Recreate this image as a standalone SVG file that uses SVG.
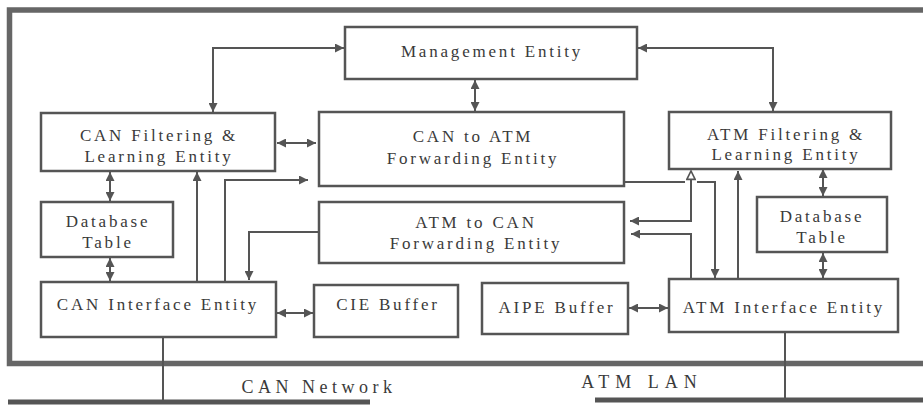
<svg xmlns="http://www.w3.org/2000/svg" width="923" height="405" viewBox="0 0 923 405">
<style>
.box{fill:#fff;stroke:#555;stroke-width:2.5}
.t{font-family:"Liberation Serif","Times New Roman",serif;font-size:17px;fill:#3a3a3a;text-anchor:middle;letter-spacing:2.8px}
.big{font-size:18px;letter-spacing:4.5px}
.wide{letter-spacing:6px}
.c{fill:none;stroke:#555;stroke-width:2}
.frame{fill:none;stroke:#666;stroke-width:5.5}
</style>
<defs>
<marker id="ah" viewBox="0 0 10 10" refX="10" refY="5" markerWidth="10" markerHeight="9" markerUnits="userSpaceOnUse" orient="auto-start-reverse">
<path d="M0,0 L10,5 L0,10 z" fill="#555"/>
</marker>
<marker id="ho" viewBox="0 0 12 12" refX="11" refY="6" markerWidth="11" markerHeight="10" markerUnits="userSpaceOnUse" orient="auto-start-reverse">
<path d="M1,1 L11,6 L1,11 z" fill="#fff" stroke="#555" stroke-width="2"/>
</marker>
</defs>
<rect width="923" height="405" fill="#fff"/>
<g id="frame">
<path class="frame" d="M923,10 H9.5 V363.5 H923"/>
<line x1="8" y1="402" x2="370" y2="402" stroke="#555" stroke-width="5"/>
<line x1="595" y1="400" x2="923" y2="400" stroke="#555" stroke-width="5"/>
</g>
<g id="connectors">
<path class="c" d="M163,337 V400"/>
<path class="c" d="M785,332 V398"/>
<path class="c" d="M344,48 H213 V112" marker-start="url(#ah)" marker-end="url(#ah)"/>
<path class="c" d="M638,48 H773 V111" marker-start="url(#ah)" marker-end="url(#ah)"/>
<path class="c" d="M475,80 V111" marker-start="url(#ah)" marker-end="url(#ah)"/>
<path class="c" d="M277,143 H316" marker-start="url(#ah)" marker-end="url(#ah)"/>
<path class="c" d="M110,172 V201" marker-start="url(#ah)" marker-end="url(#ah)"/>
<path class="c" d="M110,258 V281" marker-start="url(#ah)" marker-end="url(#ah)"/>
<path class="c" d="M197,281 V172" marker-end="url(#ah)"/>
<path class="c" d="M225,281 V180 H308" marker-end="url(#ah)"/>
<path class="c" d="M319,232 H249 V280" marker-end="url(#ah)"/>
<path class="c" d="M277,313 H313" marker-start="url(#ah)" marker-end="url(#ah)"/>
<path class="c" d="M629,308 H668" marker-start="url(#ah)" marker-end="url(#ah)"/>
<path class="c" d="M823,169 V196" marker-start="url(#ah)" marker-end="url(#ah)"/>
<path class="c" d="M823,253 V278" marker-start="url(#ah)" marker-end="url(#ah)"/>
<path class="c" d="M738,278 V171" marker-end="url(#ah)"/>
<path class="c" d="M625,182 H685"/>
<path class="c" d="M697,182 H715 V278" marker-end="url(#ah)"/>
<path class="c" d="M630,221 H691 V171" marker-start="url(#ah)" marker-end="url(#ho)"/>
<path class="c" d="M691,278 V234 H631" marker-end="url(#ah)"/>
</g>
<g id="management">
<rect class="box" x="345" y="27" width="292" height="52"/>
<text class="t" x="492" y="57">Management Entity</text>
</g>
<g id="can-filtering">
<rect class="box" x="41" y="113" width="234" height="58"/>
<text class="t" x="159" y="141">CAN Filtering &amp;</text>
<text class="t" x="159" y="162">Learning Entity</text>
</g>
<g id="can-to-atm">
<rect class="box" x="319" y="112" width="305" height="74"/>
<text class="t" x="473" y="142">CAN to ATM</text>
<text class="t" x="473" y="164">Forwarding Entity</text>
</g>
<g id="atm-to-can">
<rect class="box" x="319" y="202" width="305" height="61"/>
<text class="t" x="476" y="228">ATM to CAN</text>
<text class="t" x="476" y="249">Forwarding Entity</text>
</g>
<g id="can-database">
<rect class="box" x="41" y="202" width="132" height="55"/>
<text class="t" x="108" y="227">Database</text>
<text class="t" x="108" y="248">Table</text>
</g>
<g id="can-interface">
<rect class="box" x="41" y="282" width="235" height="55"/>
<text class="t" x="158" y="310">CAN Interface Entity</text>
</g>
<g id="cie-buffer">
<rect class="box" x="314" y="285" width="144" height="52"/>
<text class="t" x="388" y="310">CIE Buffer</text>
</g>
<g id="aipe-buffer">
<rect class="box" x="482" y="283" width="146" height="51"/>
<text class="t" x="557" y="313">AIPE Buffer</text>
</g>
<g id="atm-interface">
<rect class="box" x="669" y="279" width="229" height="53"/>
<text class="t" x="784" y="313">ATM Interface Entity</text>
</g>
<g id="atm-filtering">
<rect class="box" x="669" y="112" width="222" height="57"/>
<text class="t" x="786" y="140">ATM Filtering &amp;</text>
<text class="t" x="786" y="160">Learning Entity</text>
</g>
<g id="atm-database">
<rect class="box" x="757" y="197" width="130" height="55"/>
<text class="t" x="822" y="222">Database</text>
<text class="t" x="822" y="243">Table</text>
</g>
<g id="network-labels">
<text class="t big" x="319" y="393">CAN Network</text>
<text class="t big wide" x="642" y="388">ATM LAN</text>
</g>
</svg>
